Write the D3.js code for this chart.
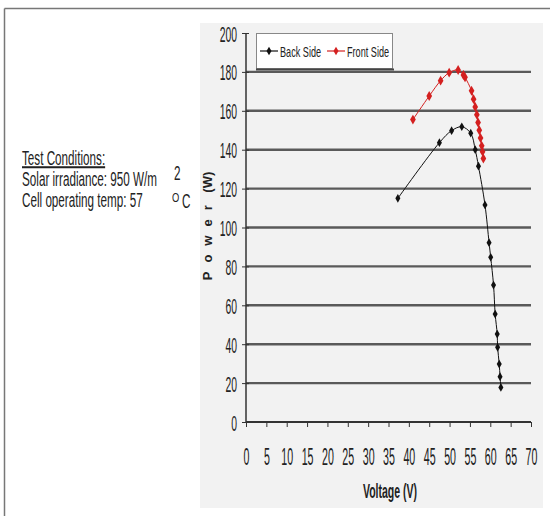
<!DOCTYPE html>
<html>
<head>
<meta charset="utf-8">
<script src="https://cdn.jsdelivr.net/npm/d3@7"></script>
<style>
  body { margin: 0; background: #fff; }
  text { font-family: "Liberation Sans", Arial, sans-serif; fill: #222; }
</style>
</head>
<body>
<svg id="chart" width="550" height="516"></svg>
<script>
// values
const backVoltage = [37.3, 47.5, 50.5, 53.0, 55.2, 56.3, 57.1, 58.7, 59.7, 60.1, 60.8, 61.2, 61.7, 61.8, 62.2, 62.4, 62.6];
const backPower   = [115, 143.6, 149.8, 151.8, 148.5, 140, 131.5, 111.6, 92.2, 84.7, 70.4, 55.5, 45.2, 38.4, 29.8, 23.3, 17.8];
const frontVoltage = [41.0, 45.0, 47.8, 49.9, 52.1, 53.4, 53.8, 55.4, 55.9, 56.3, 56.7, 57.0, 57.3, 57.6, 57.9, 58.1, 58.3];
const frontPower   = [155.5, 167.6, 175.5, 179.6, 181, 178.4, 177.2, 170.3, 166, 162, 158, 154, 150, 146, 142, 139, 135.5];
const xTicks = d3.range(0, 71, 5);
const yTicks = d3.range(0, 201, 20);
const seriesNames = ["Back Side", "Front Side"];
const seriesColors = ["#111", "#d42020"];
const markerSizes = [22, 28];

const svg = d3.select("#chart");

// the source uses a tall narrow font, so text gets squeezed / stretched
function placeText(parent, x, y, sx, sy, str) {
    return parent.append("text")
        .attr("transform", `translate(${x},${y}) scale(${sx},${sy})`)
        .text(str);
}

// outer frame (top + left only visible)
svg.append("line").attr("x1", 4.5).attr("x2", 550).attr("y1", 8.5).attr("y2", 8.5)
    .attr("stroke", "#777").attr("stroke-width", 1.5);
svg.append("line").attr("x1", 4.5).attr("x2", 4.5).attr("y1", 8.5).attr("y2", 516)
    .attr("stroke", "#777").attr("stroke-width", 1.5);

// grey chart panel
svg.append("rect").attr("x", 200).attr("y", 23).attr("width", 343).attr("height", 485)
    .attr("fill", "#f2f2f2");

const x = d3.scaleLinear().domain([0, 70]).range([246, 531]);
const y = d3.scaleLinear().domain([0, 200]).range([422, 33]);

// horizontal grid
svg.append("g")
    .selectAll("line")
    .data(yTicks.filter(d => d > 0 && d < 200))
    .join("line")
    .attr("x1", x(0)).attr("x2", x(70))
    .attr("y1", d => y(d)).attr("y2", d => y(d))
    .attr("stroke", "#5a5a5a").attr("stroke-width", 2.4);

// y axis
const yAxis = svg.append("g")
    .attr("transform", `translate(${x(0)},0)`)
    .call(d3.axisLeft(y).tickValues(yTicks).tickSize(4));
yAxis.selectAll(".tick line").attr("x1", 3).attr("x2", -4).attr("stroke", "#333");
yAxis.select(".domain").attr("stroke", "#333").attr("stroke-width", 1.5).attr("d", `M0,${y(200)}V${y(0)}`);
yAxis.selectAll(".tick text")
    .attr("x", 0).attr("y", 0).attr("dy", "0.36em")
    .attr("transform", "translate(-9,0) scale(0.8,1.72)")
    .attr("font-size", 13).attr("fill", "#333");

// x axis
const xAxis = svg.append("g")
    .attr("transform", `translate(0,${y(0)})`)
    .call(d3.axisBottom(x).tickValues(xTicks).tickSize(5));
xAxis.select(".domain").attr("stroke", "#333").attr("stroke-width", 2).attr("d", `M${x(0)},0H${x(70)}`);
xAxis.selectAll(".tick line").attr("stroke", "#333");
xAxis.selectAll(".tick text")
    .attr("x", 0).attr("y", 0).attr("dy", 0)
    .attr("transform", "translate(0,43) scale(0.82,1.78)")
    .attr("font-size", 13).attr("fill", "#333");

// axis titles
const yTitle = svg.append("text")
    .attr("transform", `translate(212,226) rotate(-90)`)
    .attr("text-anchor", "middle")
    .attr("font-size", 13).attr("font-weight", "bold");
yTitle.append("tspan").style("letter-spacing", "9px").text("Power");
yTitle.append("tspan").text(" (W)");

placeText(svg, 390, 498, 0.81, 1.5, "Voltage (V)")
    .attr("text-anchor", "middle")
    .attr("font-size", 13).attr("font-weight", "bold");

// series
const series = [
    backVoltage.map((v, i) => ({ v, p: backPower[i] })),
    frontVoltage.map((v, i) => ({ v, p: frontPower[i] }))
];
const line = d3.line().x(d => x(d.v)).y(d => y(d.p)).curve(d3.curveCatmullRom);

series.forEach((pts, i) => {
    const diamond = d3.symbol().type(d3.symbolDiamond).size(markerSizes[i]);
    svg.append("path").datum(pts)
        .attr("d", line)
        .attr("fill", "none")
        .attr("stroke", seriesColors[i])
        .attr("stroke-width", 1);
    svg.append("g").selectAll("path")
        .data(pts)
        .join("path")
        .attr("d", diamond)
        .attr("transform", d => `translate(${x(d.v)},${y(d.p)})`)
        .attr("fill", seriesColors[i]);
});

// legend
const legend = svg.append("g");
legend.append("rect").attr("x", 256.5).attr("y", 33.5).attr("width", 136).attr("height", 35)
    .attr("fill", "#fff").attr("stroke", "#888").attr("stroke-width", 1);
legend.append("line").attr("x1", 256).attr("x2", 394).attr("y1", 69.5).attr("y2", 69.5)
    .attr("stroke", "#444").attr("stroke-width", 2);
const legendX = [260, 327];
seriesNames.forEach((name, i) => {
    const lx = legendX[i];
    legend.append("line").attr("x1", lx).attr("x2", lx + 18).attr("y1", 51).attr("y2", 51)
        .attr("stroke", seriesColors[i]).attr("stroke-width", 1.2);
    legend.append("path").attr("d", d3.symbol().type(d3.symbolDiamond).size(22))
        .attr("transform", `translate(${lx + 9},51)`)
        .attr("fill", seriesColors[i]);
    placeText(legend, lx + 20, 57, 0.76, 1.28, name)
        .attr("font-size", 12).attr("fill", "#333");
});

// test conditions note
const note = svg.append("g").attr("font-size", 15);
placeText(note, 22, 165, 0.78, 1.35, "Test Conditions:")
    .attr("text-decoration", "underline");
placeText(note, 22, 186, 0.78, 1.35, "Solar irradiance: 950 W/m");
placeText(note, 174, 180, 0.78, 1.3, "2");
placeText(note, 22, 207, 0.78, 1.35, "Cell operating temp: 57");
placeText(note, 172, 202, 0.85, 1.1, "O").attr("font-size", 11);
placeText(note, 182, 208, 0.78, 1.35, "C");
</script>
</body>
</html>
